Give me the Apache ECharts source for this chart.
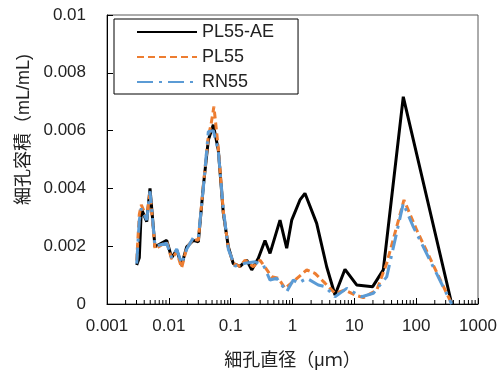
<!DOCTYPE html>
<html>
<head>
<meta charset="utf-8">
<script src="https://cdn.jsdelivr.net/npm/echarts@6/dist/echarts.min.js"></script>
<style>html,body{margin:0;padding:0;background:#fff}#c{width:502px;height:376px}</style>
</head>
<body>
<div id="c"></div>
<script>
// ---- data (pore diameter in µm, pore volume in mL/mL) ----
var aeDiam = [0.00302,0.00333,0.00359,0.00439,0.00496,0.00597,0.00924,0.0111,0.0134,0.0161,0.0195,0.0249,0.0300,0.0361,0.0435,0.0524,0.0631,0.0760,0.0916,0.110,0.142,0.182,0.219,0.280,0.359,0.433,0.628,0.806,0.971,1.32,1.59,2.46,3.57,4.87,7.06,10.9,19.8,29.4,61.9,376];
var aeVol  = [0.00135,0.0016,0.0033,0.00285,0.0040,0.00198,0.0022,0.0016,0.00187,0.00135,0.00198,0.0022,0.00215,0.00406,0.00567,0.0062,0.00533,0.00315,0.00198,0.0014,0.0013,0.00152,0.00118,0.00158,0.0022,0.00175,0.0029,0.00193,0.0029,0.0036,0.00383,0.00279,0.00129,0.00031,0.0012,0.00066,0.0006,0.00118,0.00717,0];

var plDiam = [0.00302,0.00333,0.00359,0.00439,0.00496,0.00597,0.00924,0.0111,0.0134,0.0161,0.0195,0.0249,0.0300,0.0361,0.0435,0.048,0.0536,0.0631,0.0760,0.0916,0.110,0.142,0.171,0.232,0.298,0.461,0.590,0.757,1.10,1.70,2.31,3.36,4.87,7.06,10.3,14.0,23.0,33.4,63.5,102,376];
var plVol  = [0.0015,0.0031,0.00343,0.0030,0.00385,0.0019,0.00215,0.00155,0.0018,0.00125,0.00195,0.00225,0.0022,0.0041,0.0058,0.0062,0.00683,0.0054,0.0032,0.00195,0.0014,0.0013,0.00152,0.00129,0.00152,0.00094,0.00089,0.00054,0.00083,0.00118,0.00106,0.00072,0.00037,0.00048,0.00031,0.00022,0.00048,0.00141,0.0036,0.00256,0];

var rnDiam = [0.00302,0.00333,0.00359,0.00439,0.00496,0.00597,0.00924,0.0111,0.0134,0.0161,0.0195,0.0249,0.0300,0.0361,0.0435,0.0524,0.0631,0.0760,0.0916,0.117,0.171,0.248,0.337,0.433,0.556,0.806,1.03,1.24,1.70,2.61,3.36,4.87,7.53,13.2,20.3,33.4,61.9,89.9,376];
var rnVol  = [0.0014,0.0029,0.0033,0.0029,0.0039,0.0020,0.0021,0.0016,0.0019,0.0014,0.0019,0.0023,0.0023,0.0040,0.00596,0.0060,0.0053,0.0033,0.0019,0.00131,0.00141,0.00146,0.00135,0.00083,0.00089,0.00043,0.00083,0.00072,0.00089,0.00066,0.0006,0.00025,0.00054,0.00025,0.00037,0.00094,0.00348,0.00267,0];

var seriesNames = ['PL55-AE','PL55','RN55'];
var xTickLabels = ['0.001','0.01','0.1','1','10','100','1000'];
var yTickLabels = ['0','0.002','0.004','0.006','0.008','0.01'];
var xTitle = '細孔直径（μｍ）';
var yTitle = '細孔容積（mL/mL)';

function pairs(a,b){ return a.map(function(x,i){ return [x,b[i]]; }); }
// minor tick positions on the log axis (2..9 × each decade)
var minorTicks = [];
for (var e = -3; e < 3; e++) for (var k = 2; k <= 9; k++) minorTicks.push([k*Math.pow(10,e), 0]);

var font = "'Liberation Sans','Noto Sans CJK JP',sans-serif";
var chart = echarts.init(document.getElementById('c'), null, {renderer:'canvas'});
chart.setOption({
  animation:false,
  textStyle:{fontFamily:font},
  grid:{left:107,right:24,top:15,bottom:72,show:true,borderColor:'#595959',borderWidth:1,containLabel:false},
  legend:{
    orient:'vertical', left:114, top:19,
    data:seriesNames,
    itemWidth:60, itemHeight:14, itemGap:5,
    padding:[3,24,2,22],
    backgroundColor:'#fff', borderColor:'#000', borderWidth:1,
    itemStyle:{opacity:0},
    textStyle:{fontSize:18,lineHeight:20,color:'#222',fontFamily:font}
  },
  xAxis:{
    type:'log', logBase:10, min:0.001, max:1000,
    name:xTitle, nameLocation:'middle', nameGap:48,
    nameTextStyle:{fontSize:18,color:'#222',fontFamily:font},
    axisLine:{lineStyle:{color:'#000',width:1}},
    axisTick:{inside:true,length:6,lineStyle:{color:'#000'}},
    axisLabel:{fontSize:17,color:'#222',margin:14,
      formatter:function(v){ return xTickLabels[Math.round(Math.log10(v))+3]; }},
    splitLine:{show:false}
  },
  yAxis:{
    type:'value', min:0, max:0.01, interval:0.002,
    name:yTitle, nameLocation:'middle', nameGap:70,
    nameTextStyle:{fontSize:18,color:'#222',fontFamily:font,padding:[0,0,0,60]},
    axisLine:{show:true,lineStyle:{color:'#000',width:1}},
    axisTick:{show:true,inside:true,length:6,lineStyle:{color:'#000'}},
    axisLabel:{fontSize:17,color:'#222',margin:21,
      formatter:function(v){ return yTickLabels[Math.round(v/0.002)]; }},
    splitLine:{show:false}
  },
  series:[
    {name:'PL55-AE',type:'line',data:pairs(aeDiam,aeVol),symbol:'none',z:3,
     lineStyle:{color:'#000',width:3},itemStyle:{color:'#000'}},
    {name:'PL55',type:'line',data:pairs(plDiam,plVol),symbol:'none',z:4,
     lineStyle:{color:'#ED7D31',width:3,type:[7,4]},itemStyle:{color:'#ED7D31'}},
    {name:'RN55',type:'line',data:pairs(rnDiam,rnVol),symbol:'none',z:5,
     lineStyle:{color:'#5B9BD5',width:3,type:[16,6,3,6]},itemStyle:{color:'#5B9BD5'}},
    {type:'custom',data:minorTicks,silent:true,clip:false,z:6,
     renderItem:function(params,api){
       var p = api.coord([api.value(0),0]);
       return {type:'line',shape:{x1:p[0],y1:p[1],x2:p[0],y2:p[1]-4},style:{stroke:'#000',lineWidth:1}};
     }}
  ]
});
</script>
</body>
</html>
